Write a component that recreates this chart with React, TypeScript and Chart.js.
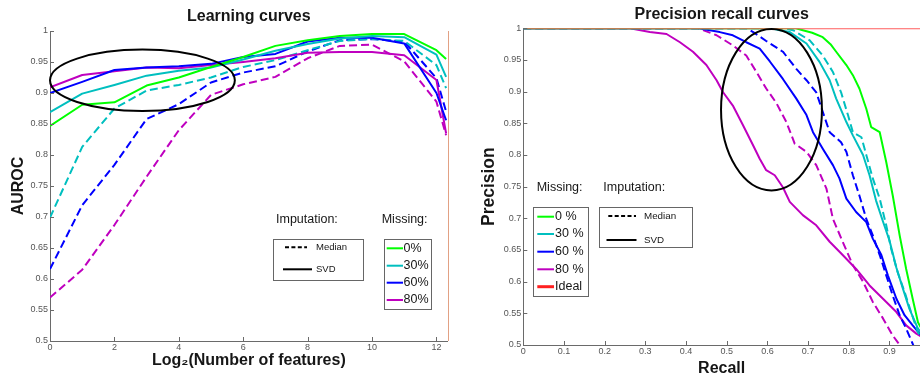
import React, { useEffect, useRef } from "react";
import { Chart, registerables } from "chart.js";

Chart.register(...registerables);

const FONT = "'Liberation Sans', Arial, Helvetica, sans-serif";
const GREEN = "#00ff00";
const CYAN = "#00bfbf";
const BLUE = "#0000ff";
const MAGENTA = "#bf00bf";
const RED = "#ff5c5c";
const AXIS = "#6a6a6a";
const TICK_TEXT = "#555555";
const TEXT = "#161616";

// ---------- Learning curves ----------
const featureLog2 = [0, 1, 2, 3, 4, 5, 6, 7, 8, 9, 10, 11, 12, 12.3];
const auroc0 = [0.847, 0.881, 0.885, 0.912, 0.925, 0.942, 0.958, 0.976, 0.985, 0.992, 0.995, 0.995, 0.969, 0.955];
const auroc30Svd = [0.869, 0.899, 0.913, 0.928, 0.936, 0.941, 0.954, 0.968, 0.979, 0.988, 0.992, 0.99, 0.962, 0.926];
const auroc60Svd = [0.9, 0.918, 0.937, 0.941, 0.943, 0.947, 0.958, 0.963, 0.983, 0.989, 0.989, 0.98, 0.9, 0.856];
const auroc80Svd = [0.909, 0.929, 0.935, 0.941, 0.94, 0.945, 0.95, 0.956, 0.965, 0.966, 0.966, 0.961, 0.921, 0.835];
const auroc30Median = [0.699, 0.813, 0.875, 0.904, 0.913, 0.925, 0.942, 0.953, 0.969, 0.984, 0.987, 0.984, 0.945, 0.908];
const auroc60Median = [0.616, 0.719, 0.784, 0.858, 0.882, 0.917, 0.933, 0.943, 0.967, 0.985, 0.987, 0.983, 0.924, 0.87];
const auroc80Median = [0.57, 0.615, 0.687, 0.765, 0.84, 0.897, 0.914, 0.926, 0.956, 0.976, 0.978, 0.951, 0.886, 0.832];
const featureTicks = [0, 2, 4, 6, 8, 10, 12];
const aurocTicks = [0.5, 0.55, 0.6, 0.65, 0.7, 0.75, 0.8, 0.85, 0.9, 0.95, 1];
const learningEllipse = { cx: 2.87, cy: 0.9205, rx: 2.87, ry: 0.0495 };

// ---------- Precision recall curves: [recall, precision] ----------
const prIdeal = [[0, 1], [1, 1]];
const pr0 = [[0, 1], [0.67, 1], [0.687, 0.997], [0.71, 0.993], [0.736, 0.986], [0.755, 0.975], [0.769, 0.963], [0.794, 0.942], [0.81, 0.926], [0.826, 0.905], [0.843, 0.873], [0.855, 0.844], [0.876, 0.836], [0.892, 0.789], [0.908, 0.736], [0.925, 0.673], [0.941, 0.62], [0.957, 0.573], [0.97, 0.536], [1, 0.5]];
const pr30Svd = [[0, 1], [0.61, 1], [0.63, 0.997], [0.655, 0.994], [0.696, 0.976], [0.728, 0.947], [0.753, 0.918], [0.769, 0.889], [0.794, 0.852], [0.81, 0.831], [0.835, 0.8], [0.851, 0.768], [0.867, 0.728], [0.884, 0.695], [0.9, 0.665], [0.917, 0.622], [0.933, 0.589], [0.949, 0.557], [0.97, 0.526], [1, 0.5]];
const pr30Median = [[0, 1], [0.64, 1], [0.663, 0.997], [0.704, 0.981], [0.736, 0.957], [0.761, 0.931], [0.781, 0.899], [0.798, 0.863], [0.81, 0.836], [0.831, 0.828], [0.843, 0.8], [0.859, 0.763], [0.876, 0.731], [0.892, 0.689], [0.904, 0.652], [0.92, 0.615], [0.937, 0.584], [0.953, 0.552], [0.97, 0.52], [1, 0.49]];
const pr60Svd = [[0, 1], [0.43, 1], [0.483, 0.994], [0.515, 0.989], [0.548, 0.978], [0.581, 0.968], [0.6055, 0.948], [0.638, 0.92], [0.671, 0.889], [0.696, 0.863], [0.712, 0.836], [0.736, 0.81], [0.761, 0.784], [0.777, 0.763], [0.794, 0.731], [0.818, 0.71], [0.843, 0.694], [0.859, 0.668], [0.88, 0.642], [0.896, 0.61], [0.917, 0.573], [0.937, 0.547], [0.957, 0.531], [0.974, 0.518], [1, 0.5]];
const pr60Median = [[0, 1], [0.55, 1], [0.565, 0.994], [0.597, 0.98], [0.638, 0.963], [0.671, 0.936], [0.696, 0.918], [0.72, 0.899], [0.736, 0.868], [0.753, 0.836], [0.781, 0.82], [0.794, 0.805], [0.81, 0.768], [0.826, 0.736], [0.843, 0.699], [0.859, 0.673], [0.876, 0.642], [0.892, 0.61], [0.908, 0.578], [0.925, 0.547], [0.941, 0.526], [0.957, 0.502], [0.97, 0.48]];
const pr80Svd = [[0, 1], [0.262, 1], [0.311, 0.994], [0.352, 0.991], [0.385, 0.978], [0.417, 0.963], [0.45, 0.942], [0.475, 0.918], [0.491, 0.899], [0.515, 0.878], [0.54, 0.847], [0.565, 0.815], [0.581, 0.794], [0.597, 0.776], [0.618, 0.768], [0.638, 0.749], [0.655, 0.726], [0.687, 0.705], [0.72, 0.689], [0.753, 0.663], [0.785, 0.642], [0.818, 0.62], [0.851, 0.594], [0.884, 0.573], [0.917, 0.552], [0.941, 0.531], [0.966, 0.518], [1, 0.505]];
const pr80Median = [[0, 1], [0.43, 1], [0.475, 0.989], [0.515, 0.973], [0.548, 0.957], [0.573, 0.931], [0.597, 0.905], [0.622, 0.882], [0.6465, 0.852], [0.667, 0.818], [0.696, 0.805], [0.72, 0.784], [0.745, 0.747], [0.761, 0.699], [0.785, 0.663], [0.81, 0.626], [0.835, 0.6], [0.859, 0.568], [0.884, 0.542], [0.908, 0.515], [0.925, 0.5], [0.94, 0.485]];
const recallTicks = [0, 0.1, 0.2, 0.3, 0.4, 0.5, 0.6, 0.7, 0.8, 0.9];
const precisionTicks = [0.5, 0.55, 0.6, 0.65, 0.7, 0.75, 0.8, 0.85, 0.9, 0.95, 1];
const prEllipse = { cx: 0.61, cy: 0.8715, rx: 0.124, ry: 0.1274 };

// ---------- Legend texts ----------
const missingLabels = ["0%", "30%", "60%", "80%"];
const missingColors = [GREEN, CYAN, BLUE, MAGENTA];
const prMissingLabels = ["0 %", "30 %", "60 %", "80 %", "Ideal"];
const prMissingColors = [GREEN, CYAN, BLUE, MAGENTA, "#ff2020"];
const imputationLabels = ["Median", "SVD"];

const toXY = (xs: number[], ys: number[]) => xs.map((x, i) => ({ x, y: ys[i] }));
const toPts = (pairs: number[][]) => pairs.map(([x, y]) => ({ x, y }));

function series(label: string, data: any[], color: string, dashed: boolean, width = 2) {
  return {
    label,
    data,
    borderColor: color,
    backgroundColor: color,
    borderWidth: width,
    borderDash: dashed ? [8, 4] : [],
    pointRadius: 0,
    tension: 0,
    fill: false,
    borderJoinStyle: "round" as const,
  };
}

function setTicks(values: number[]) {
  return (scale: any) => {
    scale.ticks = values.map((v) => ({ value: v }));
  };
}

function text(ctx: CanvasRenderingContext2D, s: string, x: number, y: number, size: number) {
  ctx.fillStyle = TEXT;
  ctx.font = `${size}px ${FONT}`;
  ctx.textAlign = "left";
  ctx.textBaseline = "middle";
  ctx.fillText(s, x, y);
}

function box(ctx: CanvasRenderingContext2D, x: number, y: number, w: number, h: number) {
  ctx.fillStyle = "#ffffff";
  ctx.fillRect(x, y, w, h);
  ctx.strokeStyle = "#666666";
  ctx.lineWidth = 1;
  ctx.setLineDash([]);
  ctx.strokeRect(Math.round(x) + 0.5, Math.round(y) + 0.5, Math.round(w), Math.round(h));
}

function seg(ctx: CanvasRenderingContext2D, x1: number, x2: number, y: number, color: string, width: number, dash: number[]) {
  ctx.strokeStyle = color;
  ctx.lineWidth = width;
  ctx.setLineDash(dash);
  ctx.beginPath();
  ctx.moveTo(x1, y);
  ctx.lineTo(x2, y);
  ctx.stroke();
  ctx.setLineDash([]);
}

function inwardTicks(ctx: CanvasRenderingContext2D, xs: any, ys: any, a: any) {
  ctx.strokeStyle = AXIS;
  ctx.lineWidth = 1;
  ctx.setLineDash([]);
  ctx.beginPath();
  xs.ticks.forEach((t: any) => {
    const px = Math.round(xs.getPixelForValue(t.value)) + 0.5;
    ctx.moveTo(px, a.bottom);
    ctx.lineTo(px, a.bottom - 4);
  });
  ys.ticks.forEach((t: any) => {
    const py = Math.round(ys.getPixelForValue(t.value)) + 0.5;
    ctx.moveTo(a.left, py);
    ctx.lineTo(a.left + 4, py);
  });
  ctx.stroke();
}

function ellipse(ctx: CanvasRenderingContext2D, xs: any, ys: any, e: any) {
  const cx = xs.getPixelForValue(e.cx);
  const cy = ys.getPixelForValue(e.cy);
  const rx = Math.abs(xs.getPixelForValue(e.cx + e.rx) - cx);
  const ry = Math.abs(ys.getPixelForValue(e.cy + e.ry) - cy);
  ctx.strokeStyle = "#000000";
  ctx.lineWidth = 2;
  ctx.setLineDash([]);
  ctx.beginPath();
  ctx.ellipse(cx, cy, rx, ry, 0, 0, Math.PI * 2);
  ctx.stroke();
}

const learningDecor = {
  id: "learningDecor",
  afterDatasetsDraw(chart: any) {
    const { ctx, chartArea: a, scales } = chart;
    ctx.save();
    ctx.strokeStyle = "#e2a184";
    ctx.lineWidth = 1;
    ctx.beginPath();
    ctx.moveTo(Math.round(a.right) + 0.5, a.top);
    ctx.lineTo(Math.round(a.right) + 0.5, a.bottom);
    ctx.stroke();
    inwardTicks(ctx, scales.x, scales.y, a);
    ellipse(ctx, scales.x, scales.y, learningEllipse);

    text(ctx, "Imputation:", 276, 220, 12.5);
    text(ctx, "Missing:", 381.7, 220, 12.5);

    box(ctx, 272.5, 238.5, 89.5, 40.5);
    seg(ctx, 285, 307, 247.3, "#000", 2, [4, 2.4]);
    text(ctx, imputationLabels[0], 316, 247.3, 9.5);
    seg(ctx, 283, 312, 269.3, "#000", 2, []);
    text(ctx, imputationLabels[1], 316, 269.3, 9.5);

    box(ctx, 384, 239.3, 47, 69.7);
    const ys = [248.3, 265.7, 282.7, 300];
    missingLabels.forEach((lab, i) => {
      seg(ctx, 386.7, 403, ys[i], missingColors[i], 2, []);
      text(ctx, lab, 403.5, ys[i], 12.5);
    });
    ctx.restore();
  },
};

const prDecor = {
  id: "prDecor",
  afterDatasetsDraw(chart: any) {
    const { ctx, chartArea: a, scales } = chart;
    ctx.save();
    inwardTicks(ctx, scales.x, scales.y, a);
    ellipse(ctx, scales.x, scales.y, prEllipse);

    text(ctx, "Missing:", 76.7, 188, 12.5);
    text(ctx, "Imputation:", 143.3, 188, 12.5);

    box(ctx, 73.3, 207.3, 55, 88.7);
    const ys = [216.7, 234, 251.7, 269.3, 286.7];
    prMissingLabels.forEach((lab, i) => {
      seg(ctx, 77.3, 94, ys[i], prMissingColors[i], i === 4 ? 3 : 2, []);
      text(ctx, lab, 95, ys[i], 12.5);
    });

    box(ctx, 139.3, 207.3, 93.4, 40);
    seg(ctx, 148.3, 176, 216, "#000", 2, [4, 2.4]);
    text(ctx, imputationLabels[0], 184, 216, 9.8);
    seg(ctx, 146.5, 176.5, 240, "#000", 2, []);
    text(ctx, imputationLabels[1], 184, 240, 9.8);
    ctx.restore();
  },
};

const tickFont = { family: FONT, size: 9 };
const titleFont = { family: FONT, size: 16, weight: "bold" as const };

function learningConfig(): any {
  return {
    type: "line",
    data: {
      datasets: [
        series("0% missing", toXY(featureLog2, auroc0), GREEN, false),
        series("30% SVD", toXY(featureLog2, auroc30Svd), CYAN, false),
        series("60% SVD", toXY(featureLog2, auroc60Svd), BLUE, false),
        series("80% SVD", toXY(featureLog2, auroc80Svd), MAGENTA, false),
        series("30% Median", toXY(featureLog2, auroc30Median), CYAN, true),
        series("60% Median", toXY(featureLog2, auroc60Median), BLUE, true),
        series("80% Median", toXY(featureLog2, auroc80Median), MAGENTA, true),
      ],
    },
    options: {
      responsive: false,
      animation: false,
      devicePixelRatio: 1,
      layout: { padding: { left: 0, right: 12.3, top: 0, bottom: 0 } },
      plugins: {
        legend: { display: false },
        tooltip: { enabled: false },
        title: {
          display: true,
          text: "Learning curves",
          fullSize: false,
          font: titleFont,
          color: TEXT,
          padding: { top: 7.1, bottom: 4.7 },
        },
      },
      scales: {
        x: {
          type: "linear",
          min: 0,
          max: 12.35,
          afterBuildTicks: setTicks(featureTicks),
          afterFit: (s: any) => { s.height = 38; },
          ticks: { font: tickFont, color: TICK_TEXT, padding: 1, maxRotation: 0, autoSkip: false, callback: (v: any) => String(v) },
          grid: { display: false, drawTicks: false },
          border: { display: true, color: AXIS, width: 1 },
          title: { display: true, text: "Log₂(Number of features)", font: titleFont, color: TEXT, padding: { top: 0, bottom: 8.4 } },
        },
        y: {
          type: "linear",
          min: 0.5,
          max: 1,
          afterBuildTicks: setTicks(aurocTicks),
          afterFit: (s: any) => { s.width = 50; },
          ticks: { font: tickFont, color: TICK_TEXT, padding: 2, autoSkip: false, callback: (v: any) => String(v) },
          grid: { display: false, drawTicks: false },
          border: { display: true, color: AXIS, width: 1 },
          title: { display: true, text: "AUROC", font: titleFont, color: TEXT, padding: { top: 8.9, bottom: 0 } },
        },
      },
    },
    plugins: [learningDecor],
  };
}

function prConfig(): any {
  return {
    type: "line",
    data: {
      datasets: [
        series("Ideal", toPts(prIdeal), RED, false, 2),
        series("0 %", toPts(pr0), GREEN, false),
        series("30 % SVD", toPts(pr30Svd), CYAN, false),
        series("30 % Median", toPts(pr30Median), CYAN, true),
        series("60 % SVD", toPts(pr60Svd), BLUE, false),
        series("60 % Median", toPts(pr60Median), BLUE, true),
        series("80 % SVD", toPts(pr80Svd), MAGENTA, false),
        series("80 % Median", toPts(pr80Median), MAGENTA, true),
      ],
    },
    options: {
      responsive: false,
      animation: false,
      devicePixelRatio: 1,
      layout: { padding: { left: 0, right: 0, top: 0, bottom: 0 } },
      plugins: {
        legend: { display: false },
        tooltip: { enabled: false },
        title: {
          display: true,
          text: "Precision recall curves",
          fullSize: false,
          font: titleFont,
          color: TEXT,
          padding: { top: 4.9, bottom: 4.2 },
        },
      },
      scales: {
        x: {
          type: "linear",
          min: 0,
          max: 0.975,
          afterBuildTicks: setTicks(recallTicks),
          afterFit: (s: any) => { s.height = 34; },
          ticks: { font: tickFont, color: TICK_TEXT, padding: 1.3, maxRotation: 0, autoSkip: false, callback: (v: any) => String(v) },
          grid: { display: false, drawTicks: false },
          border: { display: true, color: AXIS, width: 1 },
          title: { display: true, text: "Recall", font: titleFont, color: TEXT, padding: { top: 0, bottom: 0.4 } },
        },
        y: {
          type: "linear",
          min: 0.5,
          max: 1,
          afterBuildTicks: setTicks(precisionTicks),
          afterFit: (s: any) => { s.width = 63.3; },
          ticks: { font: tickFont, color: TICK_TEXT, padding: 2, autoSkip: false, callback: (v: any) => String(v) },
          grid: { display: false, drawTicks: false },
          border: { display: true, color: AXIS, width: 1 },
          title: { display: true, text: "Precision", font: { family: FONT, size: 17.5, weight: "bold" }, color: TEXT, padding: { top: 18.5, bottom: 0 } },
        },
      },
    },
    plugins: [prDecor],
  };
}

export default function App() {
  const leftRef = useRef<HTMLCanvasElement>(null);
  const rightRef = useRef<HTMLCanvasElement>(null);

  useEffect(() => {
    const c1 = new Chart(leftRef.current as HTMLCanvasElement, learningConfig());
    const c2 = new Chart(rightRef.current as HTMLCanvasElement, prConfig());
    return () => {
      c1.destroy();
      c2.destroy();
    };
  }, []);

  return (
    <div style={{ position: "fixed", left: 0, top: 0, width: 920, height: 379, overflow: "hidden", background: "#ffffff" }}>
      <canvas ref={leftRef} width={460} height={379} style={{ position: "absolute", left: 0, top: 0, width: 460, height: 379 }} />
      <canvas ref={rightRef} width={460} height={379} style={{ position: "absolute", left: 460, top: 0, width: 460, height: 379 }} />
    </div>
  );
}
